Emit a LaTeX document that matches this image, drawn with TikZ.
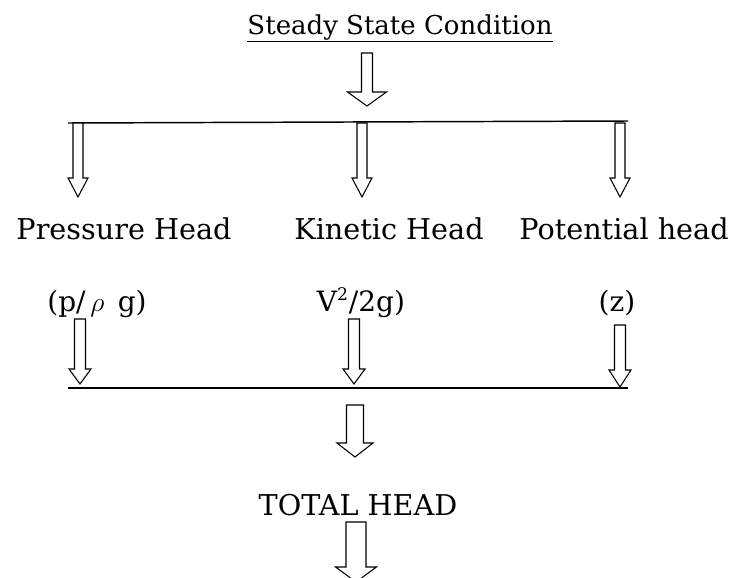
\documentclass[tikz,border=0pt]{standalone}
\usepackage{fontspec}
\setmainfont{DejaVu Serif}
\usepackage{tikz}

% hollow block arrow: top point, shaft half width, head half width, shaft length, head length
\newcommand{\blockarrow}[5]{%
  \draw[hollowarrow] (#1) ++(-#2,0) -- ++(0,#4) -- ++({#2-#3},0) -- ++(#3,#5)
    -- ++(#3,-#5) -- ++({#2-#3},0) -- ++(0,-#4) -- cycle;}

\begin{document}
\begin{tikzpicture}[x=0.75pt,y=-0.75pt,
  lbl/.style={anchor=base,inner sep=0pt,font=\fontsize{21.5}{26}\selectfont},
  hollowarrow/.style={draw=black,fill=white,line width=0.8pt,line join=miter},
  bar/.style={line width=1.1pt}]
\useasboundingbox (0,0) rectangle (736,578);
\clip (0,0) rectangle (736,578);
% texts
\node[lbl,font=\fontsize{19.5}{24}\selectfont] (title) at (400,34) {\underline{Steady State Condition}};
\node[lbl] (pressure) at (124,239) {Pressure Head};
\node[lbl] (kinetic) at (389,239) {Kinetic Head};
\node[lbl] (potential) at (624,239) {Potential head};
\node[lbl,font=\fontsize{21}{24}\selectfont] (pterm) at (97,311) {(p/\,$\rho$\ \,g)};
\node[lbl,font=\fontsize{21}{24}\selectfont] (kterm) at (361,311) {V\textsuperscript{\fontsize{13}{14}\selectfont 2}/2g)};
\node[lbl,font=\fontsize{21}{24}\selectfont] (zterm) at (617,311) {(z)};
\node[lbl] (total) at (358,515) {TOTAL HEAD};
% bars
\coordinate (topL) at (68,123);
\coordinate (topR) at (628,121);
\coordinate (botL) at (68,388);
\coordinate (botR) at (628,388);
\draw[bar] (topL) -- (topR);
\draw[bar] (botL) -- (botR);
% arrows
\coordinate (a0) at (367,53);
\coordinate (a1) at (78,123);
\coordinate (a2) at (362,123);
\coordinate (a3) at (620,123);
\coordinate (b1) at (80,319);
\coordinate (b2) at (354,319);
\coordinate (b3) at (620,325);
\coordinate (c0) at (355,405);
\coordinate (c1) at (356,522);
\blockarrow{a0}{5.5}{19.5}{39}{14}
\blockarrow{a1}{5}{10}{55}{19}
\blockarrow{a2}{5}{10}{55}{19}
\blockarrow{a3}{5}{10}{55}{19}
\blockarrow{b1}{5.5}{11}{50}{15}
\blockarrow{b2}{5.5}{11}{50}{15}
\blockarrow{b3}{5.5}{11}{45}{17}
\blockarrow{c0}{8.5}{18}{38}{14}
\blockarrow{c1}{10}{20.5}{45}{15}
\end{tikzpicture}
\end{document}
